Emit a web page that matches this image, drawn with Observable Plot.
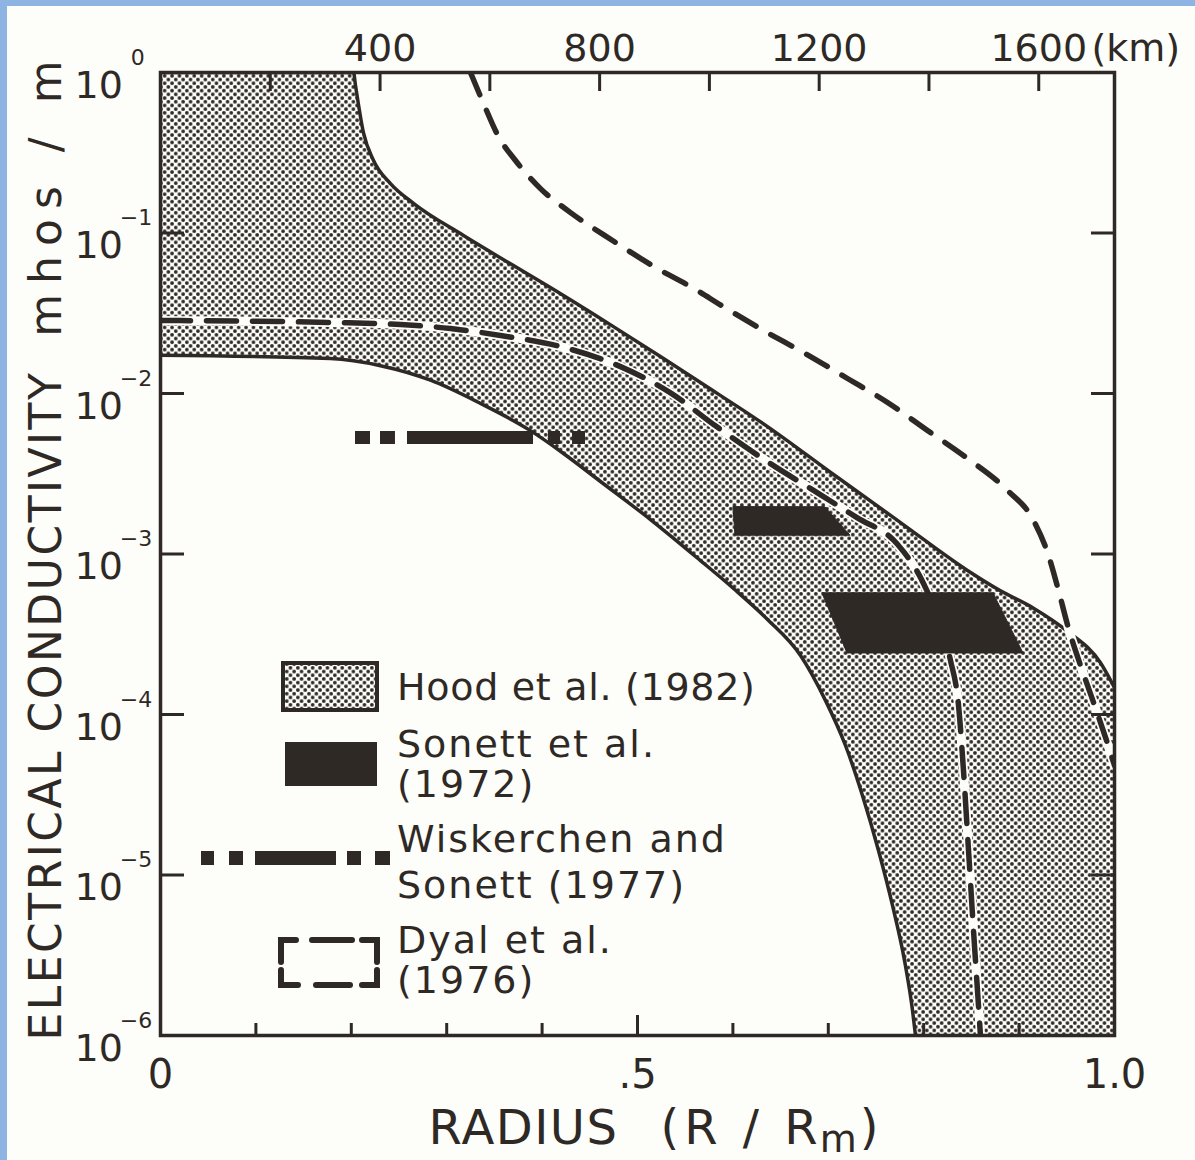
<!DOCTYPE html>
<html>
<head>
<meta charset="utf-8">
<script src="https://cdn.jsdelivr.net/npm/d3@7"></script>
<script src="https://cdn.jsdelivr.net/npm/@observablehq/plot@0.6"></script>
<style>
html, body { margin: 0; padding: 0; background: #fdfdf9; }
#wrap { position: relative; width: 1195px; height: 1160px; overflow: hidden; background: #fdfdf9; }
#wrap svg { position: absolute; left: 0; top: 0; }
#topbar { position: absolute; left: 0; top: 0; width: 1195px; height: 6px; background: #8db4e2; z-index: 2; }
#leftbar { position: absolute; left: 0; top: 0; width: 7px; height: 1160px; background: #8db4e2; z-index: 2; }
</style>
</head>
<body>
<div id="wrap"><div id="topbar"></div><div id="leftbar"></div></div>
<script>
// ---------- data ----------
const moonRadiusKm = 1738;

// Hood et al. (1982) band: upper and lower bounds, radius R/Rm vs conductivity (mhos/m)
const hoodUpperR = [0, 0.2023, 0.2044, 0.2128, 0.2233, 0.2411, 0.2652, 0.3176, 0.37, 0.4224, 0.4748, 0.5273, 0.566, 0.6363, 0.7055, 0.7757, 0.8459, 0.8805, 0.9151, 0.9507, 0.9853, 1.0];
const hoodUpperS = [1, 1, 0.83, 0.42, 0.283, 0.203, 0.153, 0.0965, 0.0627, 0.0408, 0.0261, 0.0165, 0.0117, 0.00622, 0.00313, 0.00157, 0.00079, 0.00059, 0.00046, 0.00033, 0.00021, 0.000147];
const hoodLowerR = [0, 0.178, 0.2306, 0.283, 0.3354, 0.3878, 0.4224, 0.4612, 0.5136, 0.566, 0.6006, 0.6363, 0.6709, 0.6971, 0.718, 0.7358, 0.7526, 0.7673, 0.7799, 0.7883, 0.7914];
const hoodLowerS = [0.0173, 0.0165, 0.0149, 0.0121, 0.00867, 0.00587, 0.00423, 0.00283, 0.00164, 0.00091, 0.00061, 0.000391, 0.000233, 0.000122, 0.0000641, 0.0000313, 0.0000142, 0.00000646, 0.00000293, 0.00000143, 0.000001];

// Dyal et al. (1976): two dashed bounds
const dyalLowerR = [0, 0.1782, 0.2516, 0.304, 0.3564, 0.4193, 0.4822, 0.5346, 0.5828, 0.6373, 0.6845, 0.7296, 0.7725, 0.7998, 0.8176, 0.8281, 0.8365, 0.8417, 0.847, 0.8522, 0.8564, 0.8595];
const dyalLowerS = [0.0285, 0.0277, 0.0269, 0.0254, 0.023, 0.0196, 0.0147, 0.0101, 0.00622, 0.00372, 0.00249, 0.00169, 0.00115, 0.000655, 0.000359, 0.000217, 0.000114, 0.0000448, 0.0000142, 0.00000451, 0.0000019, 0.000001];
const dyalUpperR = [0.3249, 0.3386, 0.3543, 0.3721, 0.3983, 0.4298, 0.4738, 0.5189, 0.5608, 0.5881, 0.6321, 0.6761, 0.7201, 0.7621, 0.804, 0.8459, 0.8878, 0.9151, 0.9308, 0.9413, 0.9518, 0.9644, 0.978, 0.9906, 1.0];
const dyalUpperS = [1, 0.641, 0.399, 0.283, 0.189, 0.134, 0.0898, 0.061, 0.0445, 0.0353, 0.0247, 0.0177, 0.0124, 0.00879, 0.00588, 0.00394, 0.00249, 0.00162, 0.00098, 0.000593, 0.000344, 0.000202, 0.000119, 0.0000719, 0.0000481];

// Sonett et al. (1972): two parallelograms
const sonettTopS = [0.00195, 0.000567];
const sonettBottomS = [0.0013, 0.00024];
const sonettTopLeftR = [0.6006, 0.6939];
const sonettTopRightR = [0.697, 0.8732];
const sonettBottomLeftR = [0.6027, 0.7201];
const sonettBottomRightR = [0.7233, 0.9046];

// Wiskerchen and Sonett (1977): dash-dot segment at one conductivity
const wiskS = 0.00532;
const wiskStartR = [0.2044, 0.2306, 0.2589, 0.4067, 0.4319];
const wiskEndR = [0.2201, 0.2463, 0.391, 0.4193, 0.4455];

// axes
const yTicks = [1, 0.1, 0.01, 0.001, 0.0001, 0.00001, 0.000001];
const yTickExponents = ["0", "\u22121", "\u22122", "\u22123", "\u22124", "\u22125", "\u22126"];
const yRightTicks = [0.1, 0.01, 0.001, 0.0001, 0.00001];
const xMinorTicks = [0.1, 0.2, 0.3, 0.4, 0.6, 0.7, 0.8, 0.9];
const xMajorTicks = [0.5];
const xLabelValues = [0, 0.5, 1.0];
const xLabelTexts = ["0", ".5", "1.0"];
const kmTicks = [200, 400, 600, 800, 1000, 1200, 1400, 1600];
const kmLabels = [400, 800, 1200, 1600];

// ---------- build ----------
const ink = "#2e2925";
const paper = "#fdfdf9";
const font = "DejaVu Sans";
const yDomain = [0.000001, 1];

const hoodUpper = hoodUpperR.map((r, i) => ({r, s: hoodUpperS[i]}));
const hoodLower = hoodLowerR.map((r, i) => ({r, s: hoodLowerS[i]}));
const dyalLower = dyalLowerR.map((r, i) => ({r, s: dyalLowerS[i]}));
const dyalUpper = dyalUpperR.map((r, i) => ({r, s: dyalUpperS[i]}));
const sonett = sonettTopS.flatMap((t, i) => [
  {id: i, s: t, a: sonettTopLeftR[i], b: sonettTopRightR[i]},
  {id: i, s: sonettBottomS[i], a: sonettBottomLeftR[i], b: sonettBottomRightR[i]}
]);
const wisk = wiskStartR.map((a, i) => ({a, b: wiskEndR[i], s: wiskS}));
const yLab = yTicks.map((v, i) => ({v, e: yTickExponents[i]}));
const xLab = xLabelValues.map((v, i) => ({v, t: xLabelTexts[i]}));
const curve = "monotone-x";

const svg = Plot.plot({
  width: 1195,
  height: 1160,
  marginLeft: 160,
  marginRight: 81,
  marginTop: 72,
  marginBottom: 125,
  x: {domain: [0, 1], label: null},
  y: {type: "log", domain: yDomain, label: null},
  style: {background: "transparent", fontFamily: font, color: ink, overflow: "visible"},
  marks: [
    // Hood band: stipple under upper bound, blank under lower bound
    Plot.areaY(hoodUpper, {x: "r", y1: yDomain[0], y2: "s", fill: "url(#stipple)", curve, clip: true}),
    Plot.areaY(hoodLower, {x: "r", y1: yDomain[0], y2: "s", fill: paper, curve, clip: true}),
    Plot.line(hoodUpper, {x: "r", y: "s", stroke: ink, strokeWidth: 3.5, curve, clip: true}),
    Plot.line(hoodLower, {x: "r", y: "s", stroke: ink, strokeWidth: 3.5, curve, clip: true}),
    // Dyal bounds (white halo + dashes)
    Plot.line(dyalLower, {x: "r", y: "s", stroke: paper, strokeWidth: 9, curve, clip: true}),
    Plot.line(dyalLower, {x: "r", y: "s", stroke: ink, strokeWidth: 5.5, strokeDasharray: "30,16", strokeLinecap: "round", curve, clip: true}),
    Plot.line(dyalUpper, {x: "r", y: "s", stroke: paper, strokeWidth: 9, curve, clip: true}),
    Plot.line(dyalUpper, {x: "r", y: "s", stroke: ink, strokeWidth: 5.5, strokeDasharray: "24,17", strokeLinecap: "round", curve, clip: true}),
    // Sonett parallelograms
    Plot.areaX(sonett, {y: "s", x1: "a", x2: "b", z: "id", fill: ink, stroke: ink, strokeWidth: 1}),
    // Wiskerchen & Sonett
    Plot.ruleY(wisk, {y: "s", x1: "a", x2: "b", stroke: ink, strokeWidth: 13}),
    // inward ticks
    Plot.axisY({anchor: "left", ticks: yTicks, tickSize: -24, tickFormat: () => "", strokeWidth: 3}),
    Plot.axisY({anchor: "right", ticks: yRightTicks, tickSize: -24, tickFormat: () => "", strokeWidth: 3}),
    Plot.axisX({anchor: "bottom", ticks: xMinorTicks, tickSize: -12, tickFormat: () => "", strokeWidth: 3}),
    Plot.axisX({anchor: "bottom", ticks: xMajorTicks, tickSize: -20, tickFormat: () => "", strokeWidth: 3}),
    Plot.axisX({anchor: "top", ticks: kmTicks.map(k => k / moonRadiusKm), tickSize: -18, tickFormat: () => "", strokeWidth: 3}),
    // y tick labels: "10" (exponent added as superscript tspan below)
    Plot.text(yLab, {y: "v", frameAnchor: "left", text: () => "10", textAnchor: "start", lineAnchor: "bottom", dx: -86, dy: 25, fontSize: 38, fill: ink}),
    // bottom labels
    Plot.text(xLab, {x: "v", frameAnchor: "bottom", text: "t", lineAnchor: "bottom", dy: 52, fontSize: 40, fill: ink}),
    // top km labels
    Plot.text(kmLabels, {x: k => k / moonRadiusKm, frameAnchor: "top", text: k => String(k), lineAnchor: "bottom", dy: -12, fontSize: 38, fill: ink}),
    Plot.text(["(km)"], {frameAnchor: "top-right", textAnchor: "start", lineAnchor: "bottom", dx: -23, dy: -12, fontSize: 38, fill: ink}),
    // axis titles
    Plot.text(["RADIUS"], {frameAnchor: "bottom-left", textAnchor: "start", lineAnchor: "bottom", dx: 268, dy: 108, fontSize: 48, fill: ink}),
    Plot.text(["(R / R"], {frameAnchor: "bottom-left", textAnchor: "start", lineAnchor: "bottom", dx: 500, dy: 108, fontSize: 48, fill: ink}),
    Plot.text(["ELECTRICAL CONDUCTIVITY"], {frameAnchor: "bottom-left", rotate: -90, textAnchor: "start", lineAnchor: "middle", dx: -114, dy: 5, fontSize: 44, fill: ink}),
    Plot.text(["mhos / m"], {frameAnchor: "top-left", rotate: -90, textAnchor: "end", lineAnchor: "middle", dx: -114, dy: -22, fontSize: 44, fill: ink}),
    Plot.frame({stroke: ink, strokeWidth: 3.5})
  ]
});

const S = d3.select(svg);
// stipple pattern
const defs = S.insert("defs", ":first-child");
const pat = defs.append("pattern").attr("id", "stipple").attr("patternUnits", "userSpaceOnUse")
  .attr("width", 7.4).attr("height", 7.4);
pat.append("rect").attr("width", 7.4).attr("height", 7.4).attr("fill", paper);
pat.append("circle").attr("cx", 1.85).attr("cy", 1.85).attr("r", 1.85).attr("fill", ink);
pat.append("circle").attr("cx", 5.55).attr("cy", 5.55).attr("r", 1.85).attr("fill", ink);

// superscript exponents for the y tick labels
S.selectAll("text").filter(function() { return this.textContent === "10"; })
  .each(function(d, i) {
    const e = yTickExponents[i];
    d3.select(this).append("tspan")
      .attr("dx", e === "0" ? 8 : -3).attr("dy", -33).attr("font-size", 22).text(e);
  });

// letter spacing tweaks and the R_m subscript
S.selectAll("text").each(function() {
  const t = this.textContent;
  if (t === "mhos / m") this.setAttribute("letter-spacing", "10");
  if (t === "ELECTRICAL CONDUCTIVITY") this.setAttribute("letter-spacing", "2.5");
  if (t === "RADIUS") this.setAttribute("letter-spacing", "1.5");
  if (t === "(R / R") {
    this.setAttribute("letter-spacing", "5");
    const T = d3.select(this);
    T.append("tspan").attr("dx", -3).attr("dy", 8).attr("font-size", 38).attr("letter-spacing", 0).text("m");
    T.append("tspan").attr("dx", 3).attr("dy", -8).attr("letter-spacing", 0).text(")");
  }
});

// legend (inside the frame)
const lg = S.append("g").attr("fill", ink).attr("font-family", font).attr("text-anchor", "start");
lg.append("rect").attr("x", 283).attr("y", 663).attr("width", 94).attr("height", 47)
  .attr("fill", "url(#stipple)").attr("stroke", ink).attr("stroke-width", 4);
lg.append("rect").attr("x", 285).attr("y", 742).attr("width", 92).attr("height", 44).attr("fill", ink);
[[201, 214], [229, 243], [255, 336], [347, 361], [375, 390]].forEach(([a, b]) =>
  lg.append("rect").attr("x", a).attr("y", 851).attr("width", b - a).attr("height", 14).attr("fill", ink));
lg.append("path")
  .attr("d", "M281,962V940H296 M312,940H352 M362,940H377V962 M281,970V985H298 M316,985H350 M362,985H377V970")
  .attr("fill", "none").attr("stroke", ink).attr("stroke-width", 6).attr("stroke-linecap", "round");
const legendLines = [
  ["Hood et al. (1982)", 700, 0.7],
  ["Sonett et al.", 757, 2],
  ["(1972)", 797, 2],
  ["Wiskerchen and", 852, 2],
  ["Sonett (1977)", 898, 2],
  ["Dyal et al.", 953, 2],
  ["(1976)", 993, 2]
];
legendLines.forEach(([t, y, ls]) =>
  lg.append("text").attr("x", 397).attr("y", y).attr("font-size", 38).attr("letter-spacing", ls).text(t));

document.getElementById("wrap").appendChild(svg);
</script>
</body>
</html>
